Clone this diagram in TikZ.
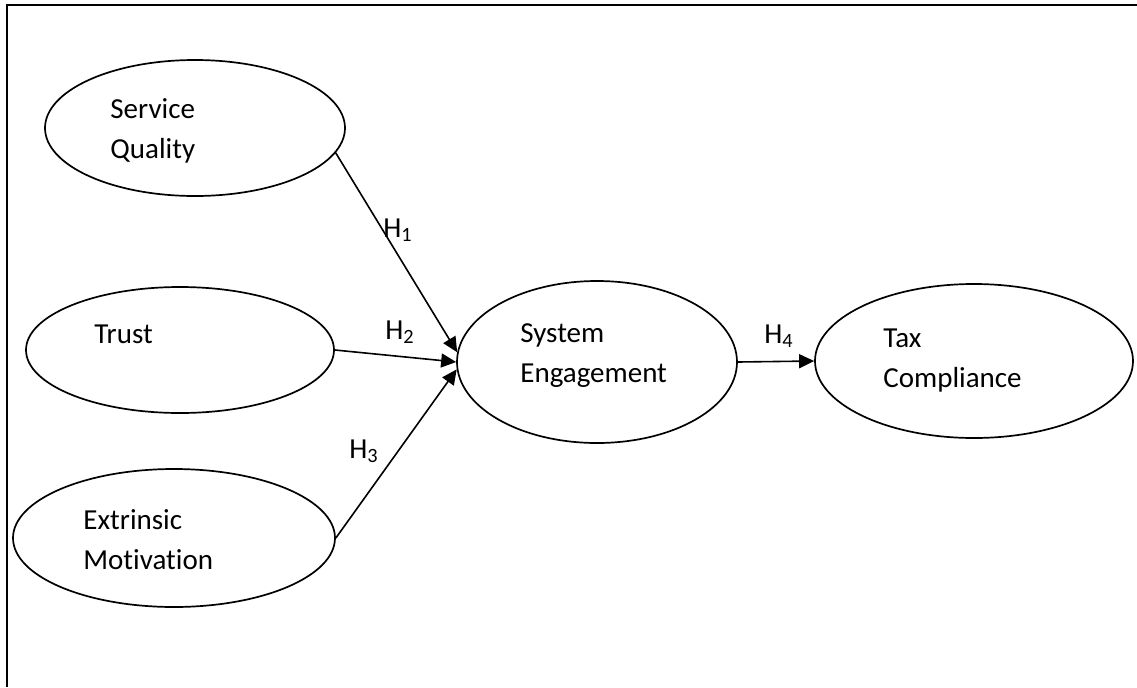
\documentclass[tikz,border=0pt]{standalone}
\usepackage{fontspec}
\setmainfont[Ligatures=NoCommon]{Carlito}
\usetikzlibrary{shapes.geometric,arrows.meta}
\begin{document}
\begin{tikzpicture} [x=0.5pt,y=-0.5pt,
construct/.style={draw,ellipse,line width=0.85pt,inner sep=0pt},
txt/.style={anchor=base west,align=left,inner sep=0pt,font=\fontsize{14.5}{20}\selectfont},
hyp/.style={line width=0.8pt,-{Triangle[length=7.5pt,width=7pt]}},
]
    \useasboundingbox (0,0) rectangle (1137,687);
    \draw [line width=1.1pt] (7,687) -- (7,5) -- (1137,5);
    \node [construct, minimum width=150pt, minimum height=68pt] (sq) at (195,128) {};
    \node [construct, minimum width=154pt, minimum height=63pt] (tr) at (180,350) {};
    \node [construct, minimum width=161pt, minimum height=69pt] (em) at (174,538) {};
    \node [construct, minimum width=140pt, minimum height=81pt] (se) at (597,362) {};
    \node [construct, minimum width=159pt, minimum height=77pt] (tc) at (974,361) {};

    % base west of a two-line text is the baseline of its second line
    \node [txt] (sqt) at (110,158) {Service\\Quality};
    \node [txt] (trt) at (94,343) {Trust};
    \node [txt] (emt) at (83,569) {Extrinsic\\Motivation};
    \node [txt] (set) at (520,382) {System\\Engagement};
    \node [txt] (tct) at (883,387) {Tax\\Compliance};

    \draw [hyp] (sq.-10) -- (se.176);
    \draw [hyp] (tr.east) -- (se.west);
    \draw [hyp] (em.east) -- (se.183);
    \draw [hyp] (se.east) -- (tc.west);

    \node [txt] (h1) at (383,237) {H\textsubscript{1}};
    \node [txt] (h2) at (385,339) {H\textsubscript{2}};
    \node [txt] (h3) at (349,458) {H\textsubscript{3}};
    \node [txt] (h4) at (764,343) {H\textsubscript{4}};
\end{tikzpicture}
\end{document}
